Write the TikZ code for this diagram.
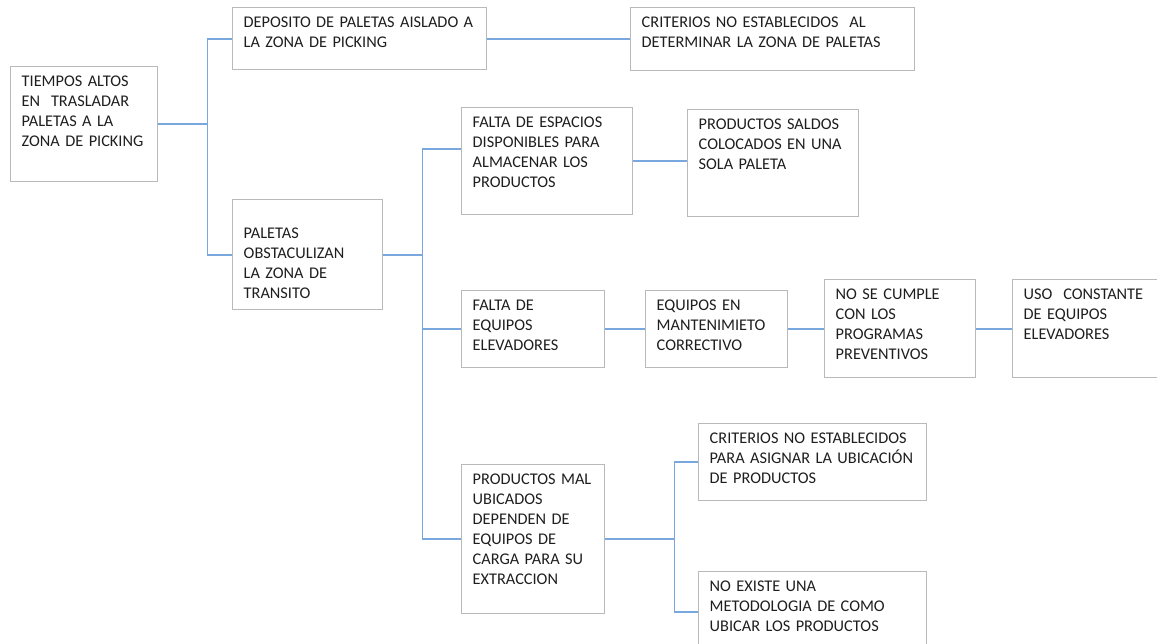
\documentclass[tikz,border=0pt]{standalone}
\usepackage{fontspec}
\setmainfont{Carlito}
\usetikzlibrary{positioning}

\definecolor{borde}{RGB}{185,185,185}
\definecolor{linea}{RGB}{120,168,222}
\definecolor{letra}{RGB}{30,30,30}

\tikzset{
	caja/.style={draw=borde, line width=1pt, anchor=north west, align=left,
		text=letra, font=\fontsize{11.6}{14.2}\selectfont,
		inner xsep=0.275cm, inner ysep=0.2cm, text height=0.3cm},
	rama/.style={draw=linea, line width=1.2pt}
}

\begin{document}
\begin{tikzpicture}
	\useasboundingbox (0,0) rectangle (28.925,-16.075);
	% primer nivel
	\node[caja, text width=3.125cm, text depth=2.175cm] (raiz) at (0.25,-1.65)
		{TIEMPOS ALTOS\\EN\ \ TRASLADAR\\PALETAS A LA\\ZONA DE PICKING};
	\node[caja, text width=5.8cm, text depth=0.85cm] (deposito) at (5.8,-0.175)
		{DEPOSITO DE PALETAS AISLADO A\\LA ZONA DE PICKING};
	\node[caja, text width=6.55cm, text depth=0.875cm] (critzona) at (15.75,-0.175)
		{CRITERIOS NO ESTABLECIDOS\ \ AL\\DETERMINAR LA ZONA DE PALETAS};
	\node[caja, text width=3.2cm, text height=0.775cm, text depth=1.575cm] (paletas) at (5.8,-4.975)
		{PALETAS\\OBSTACULIZAN\\LA ZONA DE\\TRANSITO};
	% ramas de paletas
	\node[caja, text width=3.725cm, text depth=1.975cm] (espacios) at (11.525,-2.675)
		{FALTA DE ESPACIOS\\DISPONIBLES PARA\\ALMACENAR LOS\\PRODUCTOS};
	\node[caja, text width=3.725cm, text depth=1.975cm] (saldos) at (17.175,-2.725)
		{PRODUCTOS SALDOS\\COLOCADOS EN UNA\\SOLA PALETA};
	\node[caja, text width=3.025cm, text depth=1.225cm] (elevadores) at (11.525,-7.25)
		{FALTA DE\\EQUIPOS\\ELEVADORES};
	\node[caja, text width=3.0cm, text depth=1.225cm] (correctivo) at (16.125,-7.25)
		{EQUIPOS EN\\MANTENIMIETO\\CORRECTIVO};
	\node[caja, text width=3.225cm, text depth=1.75cm] (preventivos) at (20.6,-6.975)
		{NO SE CUMPLE\\CON LOS\\PROGRAMAS\\PREVENTIVOS};
	\node[caja, text width=3.2cm, text depth=1.75cm] (uso) at (25.3,-6.975)
		{USO\ \ CONSTANTE\\DE EQUIPOS\\ELEVADORES};
	\node[caja, text width=3.025cm, text depth=3.025cm] (malubicados) at (11.525,-11.6)
		{PRODUCTOS MAL\\UBICADOS\\DEPENDEN DE\\EQUIPOS DE\\CARGA PARA SU\\EXTRACCION};
	\node[caja, text width=5.15cm, text depth=1.225cm] (critubic) at (17.45,-10.575)
		{CRITERIOS NO ESTABLECIDOS\\PARA ASIGNAR LA UBICACIÓN\\DE PRODUCTOS};
	\node[caja, text width=5.15cm, text depth=1.3cm] (metodo) at (17.45,-14.275)
		{NO EXISTE UNA\\METODOLOGIA DE COMO\\UBICAR LOS PRODUCTOS};

	% conectores
	\draw[rama] (raiz.east) -- ++(1.225,0) coordinate (t1) |- (deposito.west);
	\draw[rama] (t1) |- (paletas.west);
	\draw[rama] (deposito.east) -- (critzona.west |- deposito.east);
	\draw[rama] (paletas.east) -- ++(0.975,0) coordinate (t2) |- ([yshift=0.3cm]espacios.west);
	\draw[rama] (t2) |- (elevadores.west);
	\draw[rama] (t2) |- (malubicados.west);
	\draw[rama] (espacios.east) -- (saldos.west |- espacios.east);
	\draw[rama] (elevadores.east) -- (correctivo.west);
	\draw[rama] (correctivo.east) -- (preventivos.west |- correctivo.east);
	\draw[rama] (preventivos.east) -- (uso.west);
	\draw[rama] (malubicados.east) -- ++(1.725,0) coordinate (t3) |- (critubic.west);
	\draw[rama] (t3) |- (metodo.west);
\end{tikzpicture}
\end{document}
